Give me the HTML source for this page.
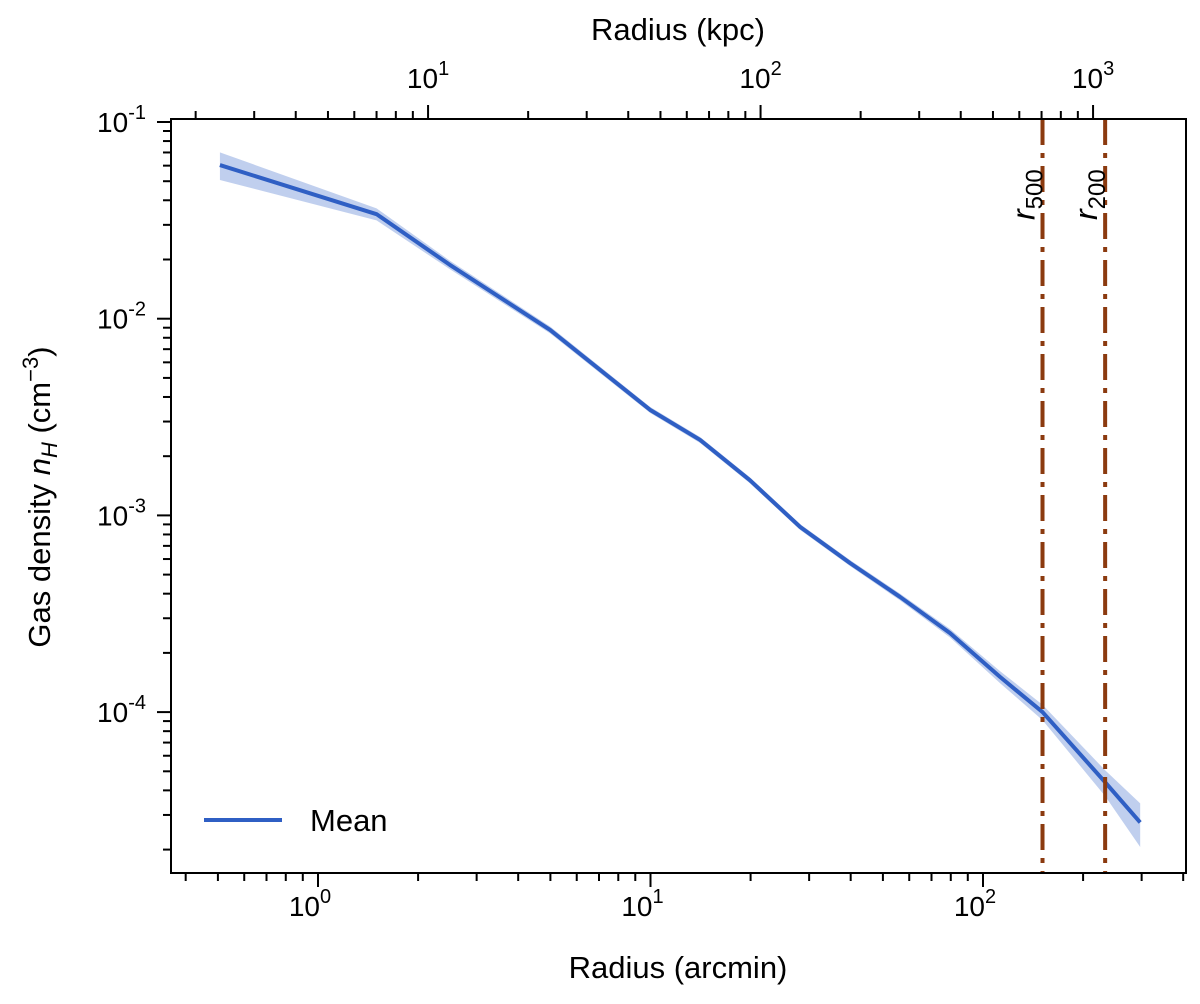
<!DOCTYPE html>
<html><head><meta charset="utf-8"><style>
body{margin:0;background:#fff}
svg text{font-family:"Liberation Sans",sans-serif;fill:#000}
</style></head><body>
<svg id="c" width="1200" height="999"></svg>
<script>
const radiusArcmin=[0.507,1.5,2.49,4.99,9.97,14.1,19.9,28.2,39.8,56.3,79.6,112.5,151,233,297];
const densityMean=[0.0604,0.034,0.0188,0.00877,0.00344,0.00242,0.00151,0.000873,0.000573,0.000385,0.000252,0.000151,0.0001,0.000044,0.0000275];
const bandFrac=[0.16,0.07,0.05,0.04,0.035,0.035,0.035,0.035,0.035,0.04,0.05,0.07,0.09,0.15,0.25];
const rLines=[151,233];
const rLabels=['500','200'];
const xTickLabels=['0','1','2'];
const yTickLabels=['-1','-2','-3','-4'];
const topTickLabels=['1','2','3'];
const kpcPerArcminLog=0.669;

const NS='http://www.w3.org/2000/svg';
const svg=document.getElementById('c');
const L=171,R=1186,T=119,B=873;
const X=v=>318+332.5*Math.log10(v);
const Y=v=>122-196.7*(Math.log10(v)+1);
const XK=k=>X(Math.pow(10,Math.log10(k)-kpcPerArcminLog));
function el(t,a,p){const e=document.createElementNS(NS,t);for(const k in a)e.setAttribute(k,a[k]);(p||svg).appendChild(e);return e;}

let up=radiusArcmin.map((r,i)=>X(r)+','+Y(densityMean[i]*(1+bandFrac[i])));
let dn=radiusArcmin.map((r,i)=>X(r)+','+Y(densityMean[i]*(1-bandFrac[i]))).reverse();
const band=el('polygon',{points:up.concat(dn).join(' '),fill:'#3060c8','fill-opacity':0.3});


const line=el('polyline',{points:radiusArcmin.map((r,i)=>X(r)+','+Y(densityMean[i])).join(' '),fill:'none',stroke:'#2f5fc4','stroke-width':4,'stroke-linejoin':'round'});



rLines.forEach((r,i)=>{
 const v=el('line',{x1:X(r),x2:X(r),y1:T,y2:B,stroke:'#8b3a0f','stroke-width':4,'stroke-dasharray':'26 8 5 8'});
 
 
 const t=el('text',{x:0,y:0,'font-size':32,'font-style':'italic',transform:`translate(${X(r)-8},220) rotate(-90)`});
 t.innerHTML='r<tspan font-size="24" dy="8" font-style="normal">'+rLabels[i]+'</tspan>';
 
 
});

const fr=el('rect',{x:L,y:T,width:R-L,height:B-T,fill:'none',stroke:'#000','stroke-width':2});



for(let d=-1;d<=2;d++)for(let m=1;m<10;m++){const v=m*Math.pow(10,d);const x=X(v);if(x<L||x>R)continue;
 el('line',{x1:x,x2:x,y1:B,y2:B+(m==1?14:8),stroke:'#000','stroke-width':2});}
xTickLabels.forEach(p=>{const x=X(Math.pow(10,+p));const t=el('text',{x:x-8,y:916,'text-anchor':'middle','font-size':28});t.innerHTML='10<tspan dy="-13" font-size="20">'+p+'</tspan>';
 });
for(let d=0;d<=3;d++)for(let m=1;m<10;m++){const v=m*Math.pow(10,d);const x=XK(v);if(x<L||x>R)continue;
 el('line',{x1:x,x2:x,y1:T,y2:T-(m==1?14:8),stroke:'#000','stroke-width':2});}
topTickLabels.forEach(p=>{const x=XK(Math.pow(10,+p));const t=el('text',{x:x,y:88,'text-anchor':'middle','font-size':28});t.innerHTML='10<tspan dy="-13" font-size="20">'+p+'</tspan>';
 });
for(let d=-5;d<=-1;d++)for(let m=1;m<10;m++){const v=m*Math.pow(10,d);const y=Y(v);if(y<T-1||y>B)continue;
 el('line',{x1:L,x2:L-(m==1?14:8),y1:y,y2:y,stroke:'#000','stroke-width':2});}
yTickLabels.forEach(p=>{const y=Y(Math.pow(10,+p));const t=el('text',{x:146,y:y+10,'text-anchor':'end','font-size':28});t.innerHTML='10<tspan dy="-13" font-size="20">'+p+'</tspan>';
 });
</script>
<svg style="position:absolute;left:0;top:0" width="1200" height="999">
<text x="678" y="978" text-anchor="middle" font-size="31">Radius (arcmin)</text>
<text x="678" y="40" text-anchor="middle" font-size="31">Radius (kpc)</text>
<text transform="translate(50,497) rotate(-90)" text-anchor="middle" font-size="31">Gas density <tspan font-style="italic">n</tspan><tspan font-style="italic" font-size="22" dy="7">H</tspan><tspan dy="-7"> (cm</tspan><tspan font-size="22" dy="-12">−3</tspan><tspan dy="12">)</tspan></text>
<g>
<line x1="204" x2="282" y1="820" y2="820" stroke="#2f5fc4" stroke-width="4"/>
<text x="310" y="831" font-size="31">Mean</text>
</g>
</svg>
</body></html>
